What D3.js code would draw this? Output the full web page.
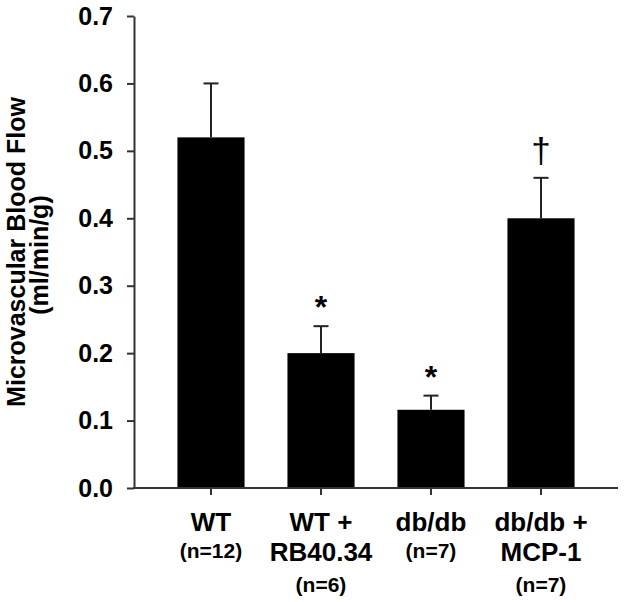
<!DOCTYPE html>
<html>
<head>
<meta charset="utf-8">
<script src="https://cdn.jsdelivr.net/npm/d3@7"></script>
<style>
  html, body { margin: 0; padding: 0; background: #fff; }
  svg { display: block; font-family: "Liberation Sans", Arial, Helvetica, sans-serif; font-weight: bold; }
</style>
</head>
<body>
<svg id="chart" width="626" height="602"></svg>
<script>
// ---- data ----
const categories = ["WT", "WT + RB40.34", "db/db", "db/db + MCP-1"];
const mainLabelLines = [["WT"], ["WT +", "RB40.34"], ["db/db"], ["db/db +", "MCP-1"]];
const nLabels = ["(n=12)", "(n=6)", "(n=7)", "(n=7)"];
const values = [0.52, 0.20, 0.116, 0.40];
const errors = [0.08, 0.04, 0.021, 0.06];
const marks = ["", "*", "*", "\u2020"];
const yTicks = [0.0, 0.1, 0.2, 0.3, 0.4, 0.5, 0.6, 0.7];
const yTitleLines = ["Microvascular Blood Flow", "(ml/min/g)"];

// ---- layout ----
const W = 626, H = 602;
const axisLeft = 134, axisRight = 618;
const yTop = 16, yBottom = 488;
const axisColor = "#333";

const svg = d3.select("#chart");

const y = d3.scaleLinear().domain([0, 0.7]).range([yBottom, yTop]);
const x = d3.scaleBand().domain(categories).range([156, 596])
  .paddingInner(0.39).paddingOuter(0.195);

// bars
svg.append("g").selectAll("rect").data(categories).join("rect")
  .attr("x", d => x(d))
  .attr("width", x.bandwidth())
  .attr("y", (d, i) => y(values[i]))
  .attr("height", (d, i) => y(0) - y(values[i]))
  .attr("fill", "#000");

// error bars
const capHalf = 7.5;
const eb = svg.append("g").attr("stroke", "#222").attr("stroke-width", 2);
categories.forEach((c, i) => {
  const cx = x(c) + x.bandwidth() / 2;
  eb.append("line").attr("x1", cx).attr("x2", cx)
    .attr("y1", y(values[i])).attr("y2", y(values[i] + errors[i]));
  eb.append("line").attr("x1", cx - capHalf).attr("x2", cx + capHalf)
    .attr("y1", y(values[i] + errors[i])).attr("y2", y(values[i] + errors[i]));
});

// significance marks
categories.forEach((c, i) => {
  if (!marks[i]) return;
  const cx = x(c) + x.bandwidth() / 2;
  const top = y(values[i] + errors[i]);
  const isDagger = marks[i] === "\u2020";
  svg.append("text")
    .attr("x", cx)
    .attr("y", isDagger ? top - 15 : top - 8)
    .attr("text-anchor", "middle")
    .attr("font-size", isDagger ? 35 : 32)
    .attr("font-weight", isDagger ? "normal" : "bold")
    .attr("fill", "#000")
    .text(marks[i]);
});

// y axis
const yAxis = d3.axisLeft(y).tickValues(yTicks).tickFormat(d3.format(".1f"))
  .tickSize(7).tickSizeOuter(0).tickPadding(14);
const gy = svg.append("g").attr("transform", `translate(${axisLeft},0)`).call(yAxis);
gy.select(".domain").attr("stroke", axisColor).attr("stroke-width", 2);
gy.selectAll(".tick line").attr("stroke", axisColor).attr("stroke-width", 2);
gy.selectAll(".tick text").attr("font-size", 25).attr("font-weight", "bold")
  .attr("fill", "#000").attr("font-family", null);

// x axis
const xAxis = d3.axisBottom(x).tickSize(7).tickSizeOuter(0).tickFormat("");
const gx = svg.append("g").attr("transform", `translate(0,${yBottom})`).call(xAxis);
gx.select(".domain").remove();
gx.selectAll(".tick line").attr("stroke", axisColor).attr("stroke-width", 2);
gx.append("line").attr("x1", axisLeft - 1).attr("x2", axisRight)
  .attr("y1", 0).attr("y2", 0).attr("stroke", axisColor).attr("stroke-width", 2);

// x labels
const lineBase = [531, 561, 592];
categories.forEach((c, i) => {
  const cx = x(c) + x.bandwidth() / 2;
  const lines = mainLabelLines[i];
  lines.forEach((t, k) => {
    svg.append("text").attr("x", cx).attr("y", lineBase[k])
      .attr("text-anchor", "middle").attr("font-size", 26).attr("fill", "#000").text(t);
  });
  const k = lines.length;
  svg.append("text").attr("x", cx).attr("y", k === 1 ? 558 : lineBase[k])
    .attr("text-anchor", "middle").attr("font-size", 21).attr("fill", "#000").text(nLabels[i]);
});

// y title
const titleCY = 252;
const gt = svg.append("g").attr("transform", `translate(0,${titleCY}) rotate(-90)`);
gt.append("text").attr("x", 0).attr("y", 25).attr("text-anchor", "middle")
  .attr("font-size", 25).attr("fill", "#000").text(yTitleLines[0]);
gt.append("text").attr("x", -3).attr("y", 48).attr("text-anchor", "middle")
  .attr("font-size", 25).attr("fill", "#000").text(yTitleLines[1]);
</script>
</body>
</html>
